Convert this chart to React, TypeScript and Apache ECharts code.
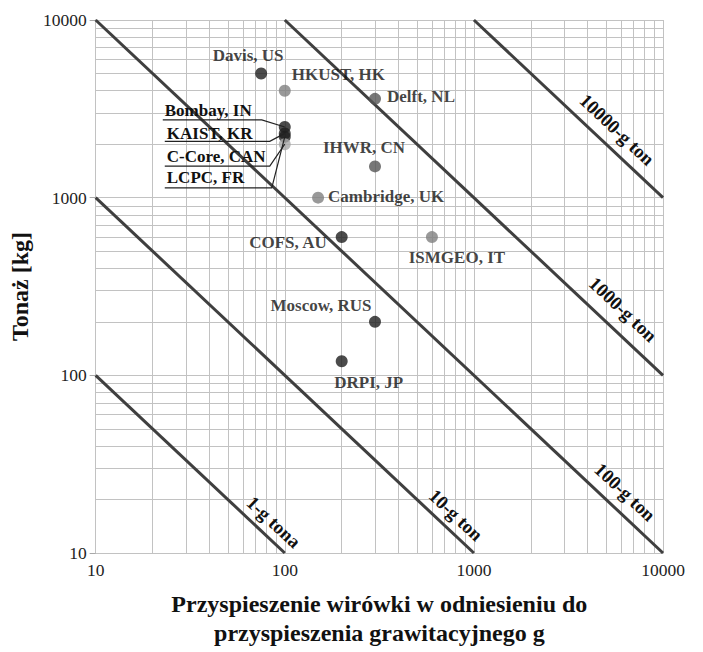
import React, { useEffect, useRef } from "react";
import * as echarts from "echarts";

// ---------- data ----------
const xTicks = [10, 100, 1000, 10000];
const yTicks = [10, 100, 1000, 10000];
const gTonLevels = [1, 10, 100, 1000, 10000];
const gTonLabels = ["1-g tona", "10-g ton", "100-g ton", "1000-g ton", "10000-g ton"];

const centreNames = [
  "Davis, US",
  "HKUST, HK",
  "Bombay, IN",
  "KAIST, KR",
  "LCPC, FR",
  "C-Core, CAN",
  "Delft, NL",
  "IHWR, CN",
  "Cambridge, UK",
  "COFS, AU",
  "ISMGEO, IT",
  "Moscow, RUS",
  "DRPI, JP",
];
const accelerationG = [75, 100, 100, 100, 100, 100, 300, 300, 150, 200, 600, 300, 200];
const payloadKg = [5000, 4000, 2500, 2300, 2200, 2000, 3600, 1500, 1000, 600, 600, 200, 120];

// ---------- styles / layout ----------
const FONT = "Liberation Serif";
const DARK = "#1e1e1e";
const MID = "#555555";
const GREY = "#7f7f7f";
const LIGHT = "#a6a6a6";

const pointStyle: Record<string, any> = {
  "Davis, US": { color: DARK, pos: "top", off: [-13, 2] },
  "HKUST, HK": { color: GREY, pos: "right", off: [-4, -16] },
  "Bombay, IN": { color: DARK, leader: { dx: -120, dy: -16, uy: -7, ex: -23 } },
  "KAIST, KR": { color: DARK, leader: { dx: -118, dy: 0, uy: 8, ex: -15 } },
  "LCPC, FR": { color: DARK, leader: { dx: -118, dy: 41, uy: 51, ex: -13 } },
  "C-Core, CAN": { color: LIGHT, leader: { dx: -118, dy: 12, uy: 22, ex: -15 } },
  "Delft, NL": { color: MID, pos: "right", off: [1, -2] },
  "IHWR, CN": { color: MID, pos: "top", off: [-11, 1] },
  "Cambridge, UK": { color: GREY, pos: "right", off: [-1, -1] },
  "COFS, AU": { color: DARK, pos: "left", off: [-4, 5] },
  "ISMGEO, IT": { color: GREY, pos: "bottom", off: [25, 1] },
  "Moscow, RUS": { color: DARK, pos: "top", off: [-54, 3] },
  "DRPI, JP": { color: DARK, pos: "bottom", off: [27, 2] },
};

// label centre offsets (px) from the lower-right end of each g-ton line
const gTonLabelOffset = [
  [-11, -31],
  [-18, -38],
  [-38, -61],
  [-40, -66],
  [-46, -68],
];

const AX_MIN = 10;
const AX_MAX = 10000;

function gridValues(): number[] {
  const out: number[] = [];
  for (let d = AX_MIN; d < AX_MAX; d *= 10) {
    for (let m = 1; m <= 9; m++) out.push(m * d);
  }
  out.push(AX_MAX);
  return out;
}

function lineEnds(level: number): number[][] {
  const p = level * 1000;
  const x0 = Math.max(AX_MIN, p / AX_MAX);
  const x1 = Math.min(AX_MAX, p / AX_MIN);
  return [
    [x0, p / x0],
    [x1, p / x1],
  ];
}

export default function App() {
  const ref = useRef<HTMLDivElement>(null);

  useEffect(() => {
    if (!ref.current) return;
    const chart = echarts.init(ref.current, undefined, { renderer: "svg" });

    const gv = gridValues();
    const gridLineStyle = { color: "#c2c2c2", width: 1, type: "solid" as const };

    const lineSeries = gTonLevels.map((lv, i) => ({
      type: "line",
      name: gTonLabels[i],
      data: lineEnds(lv),
      showSymbol: false,
      symbol: "none",
      lineStyle: { color: "#3f3f3f", width: 3 },
      z: 6,
      silent: true,
    }));

    const scatterData = centreNames.map((n, i) => {
      const st = pointStyle[n];
      return {
        name: n,
        value: [accelerationG[i], payloadKg[i]],
        itemStyle: { color: st.color },
        label: st.leader
          ? { show: false }
          : {
              show: true,
              position: st.pos,
              distance: 5,
              offset: st.off,
              formatter: n,
            },
      };
    });

    const option: any = {
      animation: false,
      grid: { left: 94, right: 40, top: 20, bottom: 94, containLabel: false },
      xAxis: {
        type: "log",
        logBase: 10,
        min: AX_MIN,
        max: AX_MAX,
        name: "Przyspieszenie wirówki w odniesieniu do\nprzyspieszenia grawitacyjnego g",
        nameLocation: "middle",
        nameGap: 36,
        nameTextStyle: {
          fontFamily: FONT,
          fontWeight: "bold",
          fontSize: 24,
          lineHeight: 29,
          color: "#111",
        },
        axisLine: { show: true, lineStyle: { color: "#a8a8a8", width: 1 } },
        axisTick: { show: false },
        splitLine: { show: false },
        axisLabel: {
          fontFamily: FONT,
          fontSize: 17.5,
          color: "#222",
          margin: 8,
          formatter: (v: number) => (xTicks.indexOf(Math.round(v)) >= 0 ? String(Math.round(v)) : ""),
        },
      },
      yAxis: {
        type: "log",
        logBase: 10,
        min: AX_MIN,
        max: AX_MAX,
        name: "Tonaż [kg]",
        nameLocation: "middle",
        nameGap: 56,
        nameRotate: 90,
        nameTextStyle: {
          fontFamily: FONT,
          fontWeight: "bold",
          fontSize: 24,
          color: "#111",
        },
        axisLine: { show: true, lineStyle: { color: "#a8a8a8", width: 1 } },
        axisTick: { show: true, inside: false, length: 6, lineStyle: { color: "#a8a8a8" } },
        splitLine: { show: false },
        axisLabel: {
          fontFamily: FONT,
          fontSize: 17.5,
          color: "#222",
          margin: 9,
          formatter: (v: number) => (yTicks.indexOf(Math.round(v)) >= 0 ? String(Math.round(v)) : ""),
        },
      },
      series: [
        {
          type: "line",
          name: "grid",
          data: [[AX_MIN, AX_MIN]],
          showSymbol: false,
          symbol: "none",
          lineStyle: { width: 0, opacity: 0 },
          silent: true,
          z: 1,
          markLine: {
            silent: true,
            animation: false,
            z: 1,
            symbol: ["none", "none"],
            label: { show: false },
            lineStyle: gridLineStyle,
            emphasis: { disabled: true },
            data: [
              ...gv.map((v) => ({ xAxis: v })),
              ...gv.map((v) => ({ yAxis: v })),
            ],
          },
        },
        ...lineSeries,
        {
          type: "scatter",
          name: "centres",
          data: scatterData,
          symbolSize: 12,
          z: 8,
          label: {
            fontFamily: FONT,
            fontWeight: "bold",
            fontSize: 17,
            color: "#111",
          },
        },
      ],
    };

    chart.setOption(option);

    // annotations: rotated g-ton labels and leader-line labels
    const graphics: any[] = [];
    gTonLevels.forEach((lv, i) => {
      const ends = lineEnds(lv);
      const a = chart.convertToPixel({ gridIndex: 0 }, ends[0]) as number[];
      const b = chart.convertToPixel({ gridIndex: 0 }, ends[1]) as number[];
      const ang = Math.atan2(b[1] - a[1], b[0] - a[0]);
      const off = gTonLabelOffset[i];
      graphics.push({
        type: "text",
        x: b[0] + off[0],
        y: b[1] + off[1],
        rotation: -ang,
        z: 10,
        style: {
          text: gTonLabels[i],
          fontFamily: FONT,
          fontWeight: "bold",
          fontSize: 19,
          fill: "#111",
          align: "center",
          verticalAlign: "middle",
        },
      });
    });

    centreNames.forEach((n, i) => {
      const st = pointStyle[n];
      if (!st.leader) return;
      const p = chart.convertToPixel({ gridIndex: 0 }, [accelerationG[i], payloadKg[i]]) as number[];
      const L = st.leader;
      graphics.push({
        type: "text",
        x: p[0] + L.dx,
        y: p[1] + L.dy,
        z: 10,
        style: {
          text: n,
          fontFamily: FONT,
          fontWeight: "bold",
          fontSize: 17,
          fill: "#111",
          align: "left",
          verticalAlign: "middle",
        },
      });
      graphics.push({
        type: "polyline",
        z: 9,
        shape: {
          points: [
            [p[0] + L.dx - 2, p[1] + L.uy],
            [p[0] + L.ex, p[1] + L.uy],
            [p[0], p[1]],
          ],
        },
        style: { stroke: "#222", lineWidth: 1.2, fill: "none" },
      });
    });

    chart.setOption({ graphic: graphics });

    return () => chart.dispose();
  }, []);

  return (
    <div
      ref={ref}
      style={{ position: "absolute", left: 0, top: 0, width: 703, height: 652, background: "#fff" }}
    />
  );
}
